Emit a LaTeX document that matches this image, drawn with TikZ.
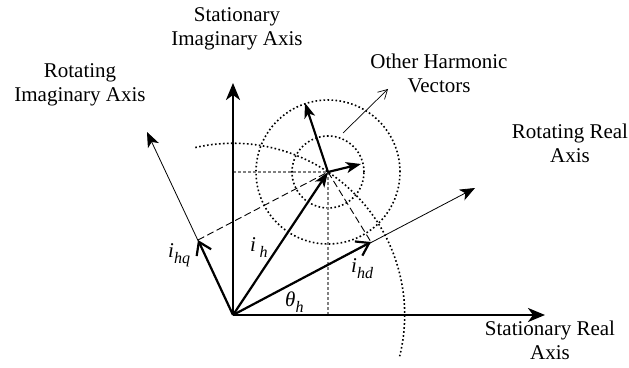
\documentclass[tikz,border=0pt]{standalone}
\usepackage{fontspec}
\setmainfont{Liberation Serif}
\usetikzlibrary{arrows.meta}
\newcommand{\mysub}[1]{\raisebox{-0.28em}{\fontsize{16}{16}\selectfont\itshape #1}}
\begin{document}
\begin{tikzpicture}[x=1pt,y=1pt,
  lbl/.style={font=\fontsize{21}{24}\selectfont, align=center, inner sep=0pt},
  sym/.style={font=\fontsize{21}{21}\selectfont\itshape, inner sep=0pt, anchor=base west},
  axthick/.style={line width=2.4pt, -{Stealth[length=17pt,width=14pt,inset=5pt]}},
  thinax/.style={line width=0.8pt, -{Stealth[length=15pt,width=12pt,inset=4pt]}},
  vec/.style={line width=2.2pt, -{Stealth[length=15pt,width=11pt,inset=4pt]}},
  openvec/.style={line width=2.2pt, -{Straight Barb[length=12pt,width=16pt]}},
  dotline/.style={line width=1.6pt, dash pattern=on 1.6pt off 2.4pt},
  grayline/.style={line width=1.1pt, gray, dash pattern=on 3pt off 2pt},
  dashline/.style={line width=0.9pt, dash pattern=on 7pt off 3.5pt},
]
\useasboundingbox (0,0) rectangle (629,367);
\coordinate (O) at (233,52);
\coordinate (H) at (328,195);
\coordinate (SI) at (233,284);
\coordinate (SR) at (545,52);
\coordinate (RR) at (475,179);
\coordinate (RI) at (147,235);
\coordinate (Q) at (198,127);
\coordinate (D) at (371,125);
\coordinate (V1) at (305,264);
\coordinate (V2) at (361,203);
\coordinate (Ha) at (233,195);
\coordinate (Hb) at (328,52);
\coordinate (OHs) at (343,234);
\coordinate (OHe) at (388,278);

% dotted circles and arc
\draw[dotline] (H) circle[radius=36pt];
\draw[dotline] (H) circle[radius=72pt];
\draw[dotline] (O) ++(102.7:171.7pt) arc[start angle=102.7, end angle=-13.9, radius=171.7pt];

% projection lines
\draw[grayline] (Ha) -- (H);
\draw[grayline] (H) -- (Hb);
\draw[dashline] (Q) -- (H);
\draw[dashline] (H) -- (D);

% axes
\draw[thinax] (O) -- (RR);
\draw[thinax] (O) -- (RI);
\draw[axthick] (O) -- (SI);
\draw[axthick] (O) -- (SR);

% vectors
\draw[vec] (O) -- (H);
\draw[vec] (H) -- (V1);
\draw[vec] (H) -- (V2);
\draw[openvec] (O) -- (Q);
\draw[openvec] (O) -- (D);
\draw[line width=0.7pt, -{Straight Barb[length=9pt,width=10pt]}] (OHs) -- (OHe);

% labels
\node[lbl] (tSI) at (237,338.4) {Stationary\\Imaginary Axis};
\node[lbl] (tRI) at (80,282) {Rotating\\Imaginary Axis};
\node[lbl] (tRR) at (570,224) {Rotating Real\\Axis};
\node[lbl] (tSR) at (550,26.7) {Stationary Real\\Axis};
\node[lbl] (tOH) at (439,294) {Other Harmonic\\Vectors};

\node[sym] (lq) at (168,109) {i\mysub{hq}};
\node[sym] (lh) at (250,115) {i\,\mysub{h}};
\node[sym] (lt) at (285,60) {θ\mysub{h}};
\node[sym] (ld) at (351,94) {i\mysub{hd}};
\end{tikzpicture}
\end{document}
